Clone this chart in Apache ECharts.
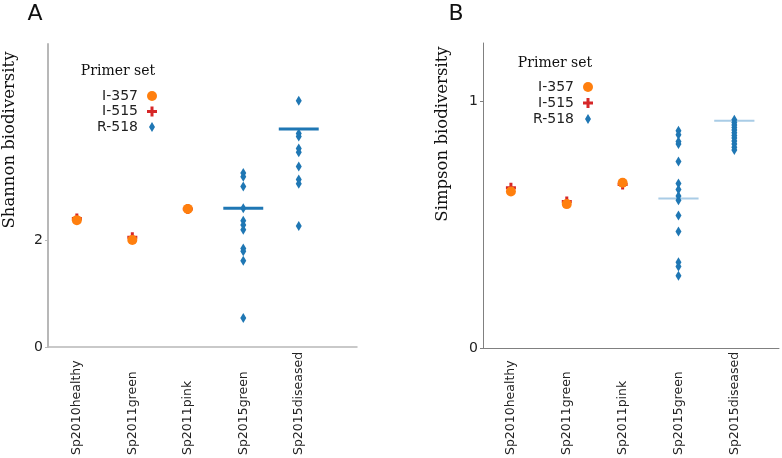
<!DOCTYPE html>
<html>
<head>
<meta charset="utf-8">
<script src="https://cdn.jsdelivr.net/npm/echarts@6/dist/echarts.min.js"></script>
<style>body{margin:0;background:#fff}</style>
</head>
<body>
<div id="main" style="width:782px;height:458px;"></div>
<script>
// categories on both panels
var categories = ['Sp2010healthy', 'Sp2011green', 'Sp2011pink', 'Sp2015green', 'Sp2015diseased'];

// panel A - Shannon
var shannonI357 = [2.37, 2.00, 2.58];
var shannonI515 = [2.40, 2.05, 2.58];
var shannonR518Green = [3.25, 3.18, 3.00, 2.59, 2.36, 2.28, 2.19, 1.84, 1.79, 1.61, 0.54];
var shannonR518Diseased = [4.60, 3.99, 3.93, 3.71, 3.64, 3.37, 3.13, 3.05, 2.26];
var shannonLines = [null, null, null, 2.59, 4.07];
var shannonTicks = [0, 2];

// panel B - Simpson
var simpsonI357 = [0.635, 0.584, 0.671];
var simpsonI515 = [0.650, 0.595, 0.664];
var simpsonR518Green = [0.882, 0.866, 0.838, 0.828, 0.757, 0.668, 0.643, 0.617, 0.600, 0.538, 0.473, 0.348, 0.331, 0.293];
var simpsonR518Diseased = [0.926, 0.915, 0.905, 0.895, 0.885, 0.874, 0.863, 0.852, 0.840, 0.828, 0.815, 0.804];
var simpsonLines = [null, null, null, 0.607, 0.922];
var simpsonTicks = [0, 1];

var legendNames = ['I-357', 'I-515', 'R-518'];

var ORANGE = '#ff7f0e', RED = '#d62728', BLUE = '#1f77b4';
var crossPath = 'path://M3.5,0H6.5V3.5H10V6.5H6.5V10H3.5V6.5H0V3.5H3.5Z';
var diamondPath = 'path://M3,0L6,5L3,10L0,5Z';

var myChart = echarts.init(document.getElementById('main'));

function pts(vals, start) {
    return vals.map(function (v, i) { return [start + i, v]; });
}
function stack(vals, idx) {
    return vals.map(function (v) { return [idx, v]; });
}
function lineSeries(vals, ax, color, width) {
    var d = [];
    vals.forEach(function (v, i) { if (v != null) d.push([i, v]); });
    return {
        type: 'custom', xAxisIndex: ax, yAxisIndex: ax, silent: true, z: 1,
        data: d,
        renderItem: function (params, api) {
            var a = api.coord([api.value(0) - 0.36, api.value(1)]);
            var b = api.coord([api.value(0) + 0.36, api.value(1)]);
            return {
                type: 'line',
                shape: { x1: a[0], y1: a[1], x2: b[0], y2: b[1] },
                style: { stroke: color, lineWidth: width }
            };
        }
    };
}
// labels start at the bottom of the picture and run up towards the axis
function xAx(gi, min, max, lineColor, lineW, margin) {
    return {
        type: 'value', gridIndex: gi, min: min, max: max,
        splitLine: { show: false },
        axisTick: { show: false },
        axisLine: { onZero: false, lineStyle: { color: lineColor, width: lineW } },
        axisLabel: {
            customValues: [0, 1, 2, 3, 4],
            formatter: function (v) { return categories[Math.round(v)]; },
            rotate: 90, align: 'left', fontSize: 12.5, color: '#222', margin: margin
        }
    };
}
function yAx(gi, max, ticks, lineColor, lineW) {
    return {
        type: 'value', gridIndex: gi, min: 0, max: max,
        splitLine: { show: false },
        axisLine: { show: true, onZero: false, lineStyle: { color: lineColor, width: lineW } },
        axisTick: { show: true, customValues: ticks, length: 3, lineStyle: { color: lineColor } },
        axisLabel: { customValues: ticks, fontSize: 14, color: '#222', margin: 5 }
    };
}
function legendOpt(right, top, gap) {
    return {
        orient: 'vertical', align: 'right', right: right, top: top, padding: 0,
        itemWidth: 18, itemHeight: 10, itemGap: gap,
        data: [
            { name: legendNames[0], icon: 'circle' },
            { name: legendNames[1], icon: crossPath },
            { name: legendNames[2], icon: diamondPath }
        ],
        textStyle: { fontSize: 14, color: '#222', lineHeight: 14 }
    };
}
function scatter(name, ax, data, color, symbol, size, z) {
    return {
        name: name, type: 'scatter', xAxisIndex: ax, yAxisIndex: ax, z: z,
        data: data, symbol: symbol, symbolSize: size,
        itemStyle: { color: color, opacity: 1 }
    };
}

var option = {
    animation: false,
    textStyle: { fontFamily: 'DejaVu Sans' },
    grid: [
        { left: 48, top: 44, width: 309, height: 303, outerBoundsMode: 'none', containLabel: false },
        { left: 483, top: 43, width: 296, height: 305, outerBoundsMode: 'none', containLabel: false }
    ],
    xAxis: [
        xAx(0, -0.52, 5.05, '#b8b8b8', 1.5, 108),
        xAx(1, -0.50, 4.80, '#808080', 1, 107)
    ],
    yAxis: [
        yAx(0, 5.66, shannonTicks, '#b8b8b8', 2),
        yAx(1, 1.238, simpsonTicks, '#808080', 1)
    ],
    legend: [legendOpt(625, 89, 1.5), legendOpt(189, 80, 2)],
    graphic: [
        { type: 'text', x: 35, y: 14, style: { text: 'A', font: '22px DejaVu Sans', fill: '#111', align: 'center', verticalAlign: 'middle' } },
        { type: 'text', x: 456, y: 14, style: { text: 'B', font: '22px DejaVu Sans', fill: '#111', align: 'center', verticalAlign: 'middle' } },
        { type: 'text', x: 118, y: 71, style: { text: 'Primer set', font: '14px DejaVu Serif', fill: '#111', align: 'center', verticalAlign: 'middle' } },
        { type: 'text', x: 555, y: 63, style: { text: 'Primer set', font: '14px DejaVu Serif', fill: '#111', align: 'center', verticalAlign: 'middle' } },
        { type: 'text', x: 10, y: 140, rotation: Math.PI / 2, style: { text: 'Shannon biodiversity', font: '16.5px DejaVu Serif', fill: '#111', align: 'center', verticalAlign: 'middle' } },
        { type: 'text', x: 443, y: 134, rotation: Math.PI / 2, style: { text: 'Simpson biodiversity', font: '16.5px DejaVu Serif', fill: '#111', align: 'center', verticalAlign: 'middle' } }
    ],
    series: [
        lineSeries(shannonLines, 0, BLUE, 3),
        scatter('I-515', 0, pts(shannonI515, 0), RED, crossPath, 10, 2),
        scatter('I-357', 0, pts(shannonI357, 0), ORANGE, 'circle', 10, 3),
        scatter('R-518', 0, stack(shannonR518Green, 3).concat(stack(shannonR518Diseased, 4)), BLUE, diamondPath, [6, 10], 3),
        lineSeries(simpsonLines, 1, '#a9cce6', 2),
        scatter('I-515', 1, pts(simpsonI515, 0), RED, crossPath, 10, 2),
        scatter('I-357', 1, pts(simpsonI357, 0), ORANGE, 'circle', 10, 3),
        scatter('R-518', 1, stack(simpsonR518Green, 3).concat(stack(simpsonR518Diseased, 4)), BLUE, diamondPath, [6, 10], 3)
    ]
};

myChart.setOption(option);
</script>
</body>
</html>
